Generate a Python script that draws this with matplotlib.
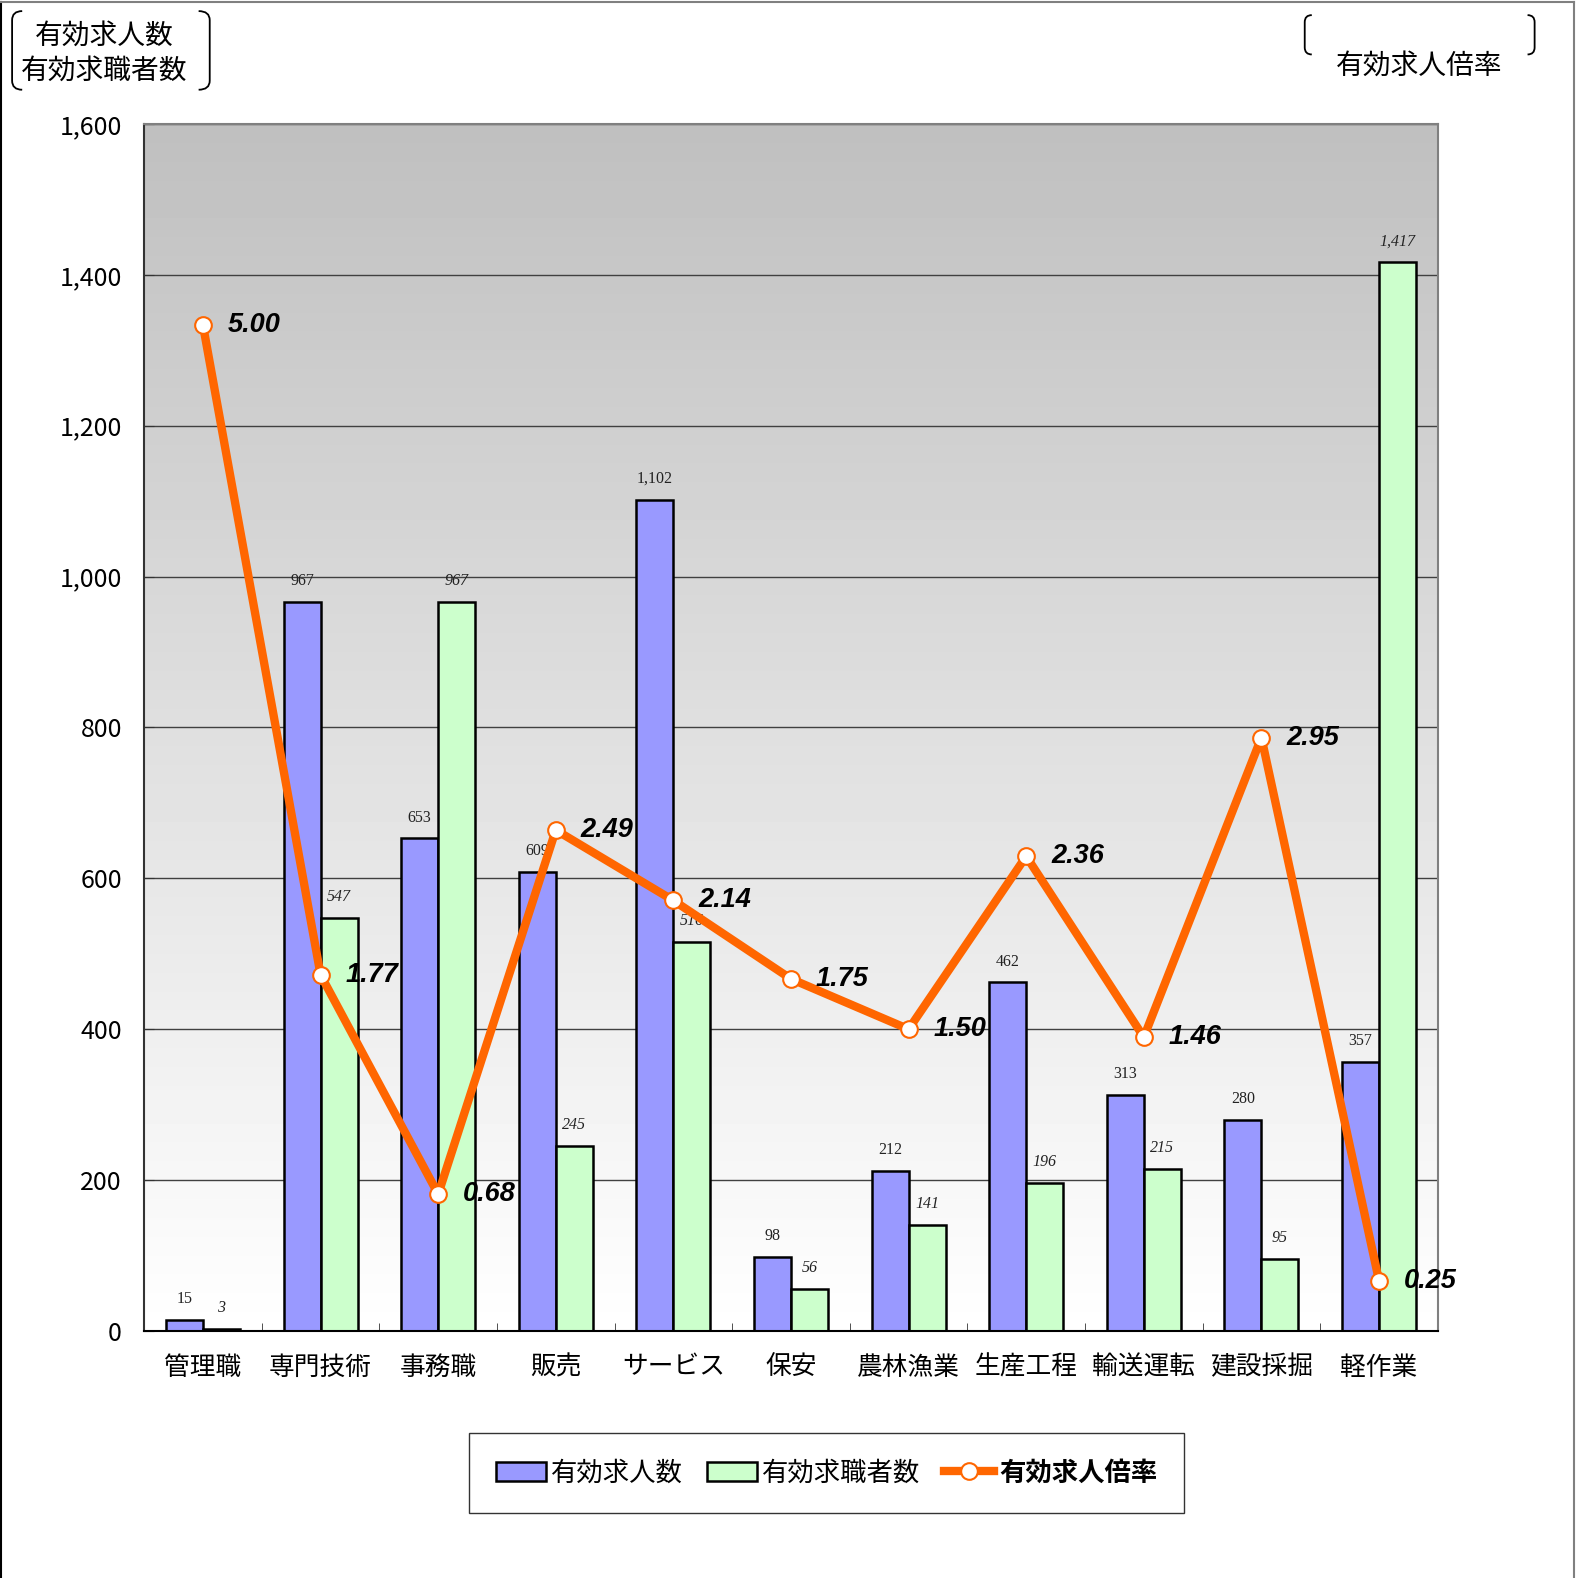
import numpy as np
import matplotlib
matplotlib.use("Agg")
import matplotlib.pyplot as plt
from matplotlib.path import Path
from matplotlib.patches import PathPatch
from matplotlib.lines import Line2D

plt.rcParams['font.family'] = ['Noto Sans CJK JP', 'DejaVu Sans']

# data
categories = ["管理職", "専門技術", "事務職", "販売", "サービス", "保安",
              "農林漁業", "生産工程", "輸送運転", "建設採掘", "軽作業"]
job_offers = [15, 967, 653, 609, 1102, 98, 212, 462, 313, 280, 357]
job_seekers = [3, 547, 967, 245, 516, 56, 141, 196, 215, 95, 1417]
ratio = [5.00, 1.77, 0.68, 2.49, 2.14, 1.75, 1.50, 2.36, 1.46, 2.95, 0.25]
yticks = [0, 200, 400, 600, 800, 1000, 1200, 1400, 1600]

W, H = 1581, 1578
S = 1581 / 1568  # layout measured on the shrunk preview
fig = plt.figure(figsize=(W / 100, H / 100), dpi=100)


def px(x, y):
    return x * S / W, 1 - y * S / H


l, b = px(143, 1320)
r, t = px(1426, 123)
ax = fig.add_axes([l, b, r - l, t - b])
x = np.arange(len(categories))
bw = 0.315

# gradient background (grey at top, white at bottom)
grad = np.linspace(0.75, 1.0, 256).reshape(-1, 1)
ax.imshow(grad, cmap='gray', vmin=0, vmax=1, extent=[-0.5, 10.5, 0, 1600],
          origin='upper', aspect='auto', zorder=0)
ax.set_xlim(-0.5, 10.5)
ax.set_ylim(0, 1600)

ax.set_axisbelow(True)
ax.yaxis.grid(True, color='#404040', linewidth=1.0)

b1 = ax.bar(x - bw / 2, job_offers, bw, color='#9999FF', edgecolor='black',
            linewidth=1.8, zorder=2)
b2 = ax.bar(x + bw / 2, job_seekers, bw, color='#CCFFCC', edgecolor='black',
            linewidth=1.8, zorder=2)

for xi, v in zip(x, job_offers):
    ax.annotate(f"{v:,}", (xi - bw / 2, v), xytext=(0, 15), textcoords='offset points',
                ha='center', va='center', fontsize=11.5, family='Liberation Serif',
                color='#222222', zorder=3)
for xi, v in zip(x, job_seekers):
    ax.annotate(f"{v:,}", (xi + bw / 2, v), xytext=(0, 15), textcoords='offset points',
                ha='center', va='center', fontsize=11.5, family='Liberation Serif',
                style='italic', color='#222222', zorder=3)

ax.set_yticks(yticks)
ax.set_yticklabels([f"{t:,}" for t in yticks], fontsize=18)
ax.tick_params(axis='y', direction='in', length=7, pad=16, color='#333333')
ax.set_xticks(x)
ax.set_xticklabels(categories, fontsize=18.5)
ax.tick_params(axis='x', which='major', length=0, pad=17)
ax.set_xticks(np.arange(0.5, 10.5, 1), minor=True)
ax.tick_params(axis='x', which='minor', direction='in', length=6, color='#333333')

ax.spines['bottom'].set_color('black')
ax.spines['bottom'].set_linewidth(1.5)
ax.spines['left'].set_color('#333333')
ax.spines['left'].set_linewidth(1.5)
ax.spines['top'].set_color('#808080')
ax.spines['top'].set_linewidth(1.5)
ax.spines['right'].set_color('#808080')
ax.spines['right'].set_linewidth(1.5)

ax2 = ax.twinx()
ax2.set_ylim(0, 6)
ax2.set_yticks([])
for s in ax2.spines.values():
    s.set_visible(False)
line, = ax2.plot(x, ratio, color='#FF6600', linewidth=6, marker='o', markersize=12,
                 markerfacecolor='white', markeredgecolor='#FF6600',
                 markeredgewidth=1.5, zorder=5)
for xi, rv in zip(x, ratio):
    ax2.annotate(f"{rv:.2f}", (xi, rv), xytext=(18, 0), textcoords='offset points',
                 ha='left', va='center', fontsize=19.5, family='Liberation Sans',
                 weight='bold', style='italic', color='black', zorder=6)

# legend
leg = fig.legend([b1, b2, line], ["有効求人数", "有効求職者数", "有効求人倍率"],
                 loc='center', bbox_to_anchor=px(820, 1461), ncol=3,
                 fontsize=19, frameon=True, fancybox=False, edgecolor='black',
                 handlelength=1.9, handletextpad=0.2, columnspacing=0.9,
                 borderpad=1.0)
leg.get_frame().set_linewidth(1.0)
leg.get_texts()[1].set_style('italic')
leg.get_texts()[2].set_fontweight('bold')
leg.get_texts()[2].set_style('italic')

# axis titles with brackets
fig.text(*px(103, 35), "有効求人数", ha='center', va='center', fontsize=20)
fig.text(*px(103, 70), "有効求職者数", ha='center', va='center', fontsize=20)
fig.text(*px(1407, 65), "有効求人倍率", ha='center', va='center', fontsize=20)


def bracket(xt, xb, y0, y1, rad):
    pts = [px(xt, y0), px(xb, y0), px(xb, y0 + rad), px(xb, y1 - rad),
           px(xb, y1), px(xt, y1)]
    codes = [Path.MOVETO, Path.CURVE3, Path.CURVE3, Path.LINETO,
             Path.CURVE3, Path.CURVE3]
    fig.patches.append(PathPatch(Path(pts, codes), fill=False, edgecolor='black',
                                 linewidth=1.3, transform=fig.transFigure))


bracket(22, 12, 11, 89, 9)
bracket(197, 208, 11, 89, 9)
bracket(1301, 1294, 15, 54, 7)
bracket(1515, 1522, 15, 54, 7)

# figure border
for (xa, ya, xb2, yb2, c) in [(1, 2, 1, H, 'black'), (1, 2, 1561, 2, '#808080'),
                               (1561, 2, 1561, H, '#808080')]:
    x0, y0 = px(xa, ya)
    x1, y1 = px(xb2, yb2)
    fig.lines.append(Line2D([x0, x1], [y0, y1], color=c, linewidth=1.5,
                            transform=fig.transFigure))

fig.savefig("out.png", dpi=100)
